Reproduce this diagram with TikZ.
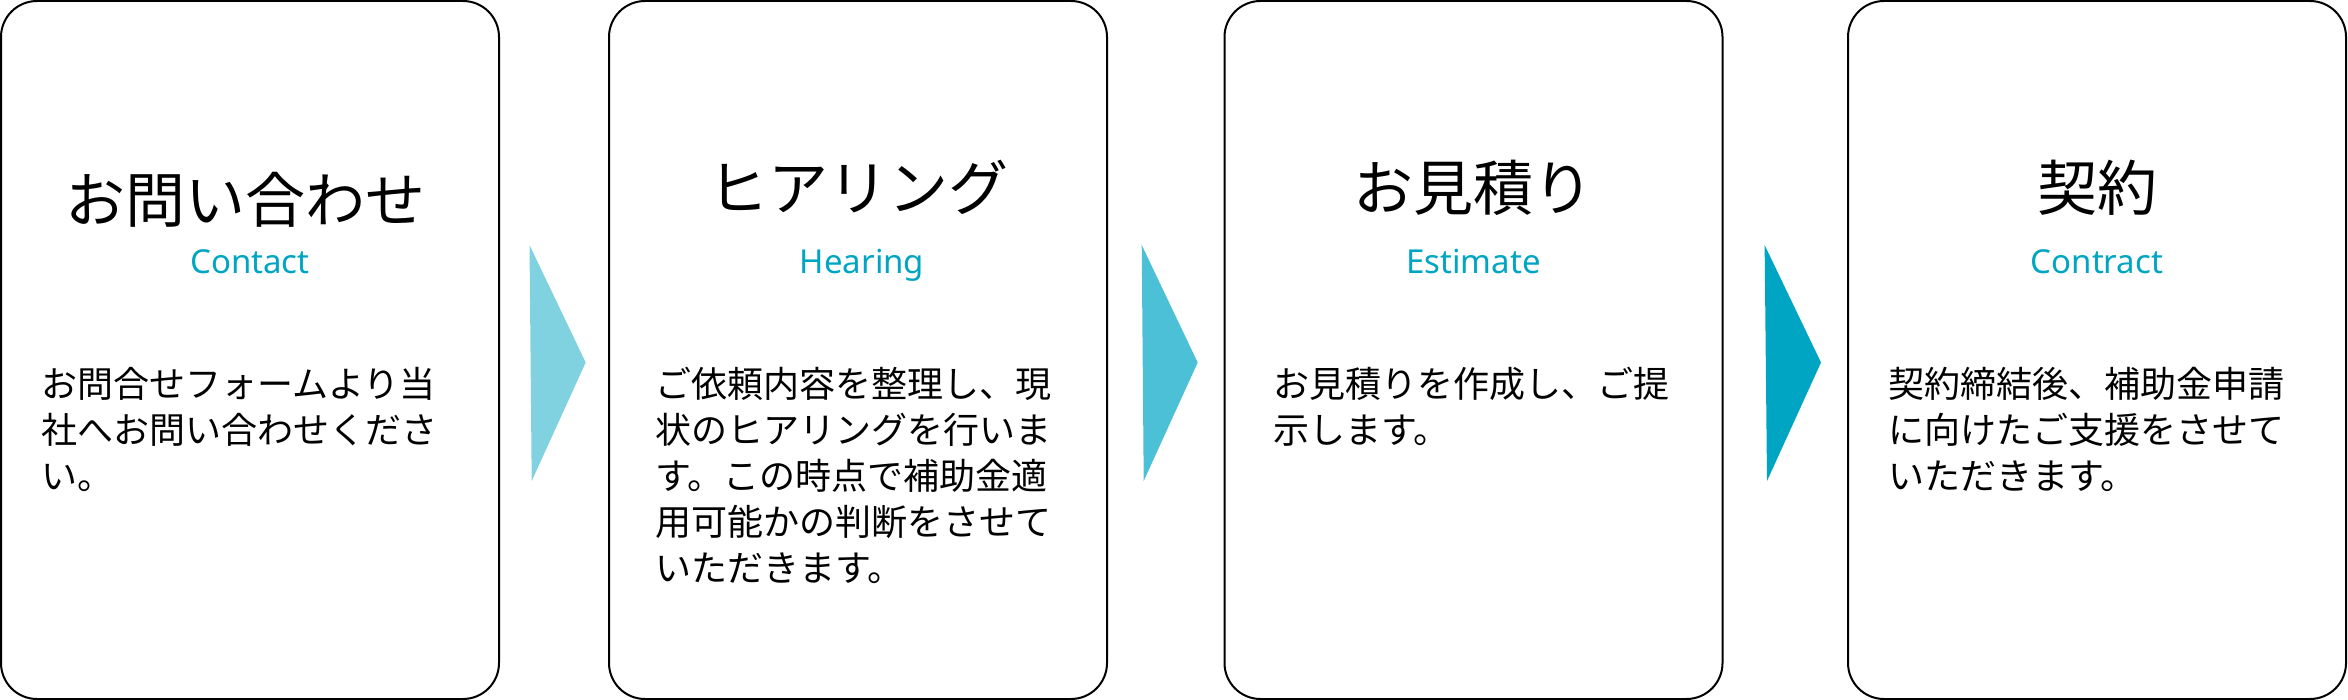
\documentclass[tikz,border=0pt]{standalone}
\usepackage{fontspec}
\setmainfont{Noto Sans CJK JP}
\newfontfamily\enfont{Noto Sans}
\definecolor{stepteal}{RGB}{0,165,196}

\begin{document}
\begin{tikzpicture}[x=0.5pt, y=-0.5pt,
  card/.style={draw, line width=1pt, rounded corners=18pt, minimum width=249pt, minimum height=349pt, inner sep=0pt},
  cardtitle/.style={anchor=base, inner sep=0pt, font=\fontsize{30}{36}\selectfont},
  cardsub/.style={anchor=base, inner sep=0pt, text=stepteal, font=\enfont\fontsize{16.5}{20}\selectfont},
  cardbody/.style={anchor=north west, align=left, inner sep=0pt, font=\fontsize{18}{23}\selectfont}]
\useasboundingbox (0,0) rectangle (2348,700);
\node [card] (card1) at (250,350) {};
\node [card] (card2) at (858,350) {};
\node [card] (card3) at (1473.5,350) {};
\node [card] (card4) at (2097,350) {};
\node [cardtitle] (title1) at (245,222) {お問い合わせ};
\node [cardtitle] (title2) at (858,211) {ヒアリング};
\node [cardtitle] (title3) at (1473.5,211) {お見積り};
\node [cardtitle] (title4) at (2097,211) {契約};
\node [cardsub] (sub1) at (250,273) {Contact};
\node [cardsub] (sub2) at (862,273) {Hearing};
\node [cardsub] (sub3) at (1473.5,273) {Estimate};
\node [cardsub] (sub4) at (2097,273) {Contract};
\node [cardbody] (body1) at (41,365) {\strut お問合せフォームより当\\社へお問い合わせくださ\\い。};
\node [cardbody] (body2) at (655,365) {\strut ご依頼内容を整理し、現\\状のヒアリングを行いま\\す。この時点で補助金適\\用可能かの判断をさせて\\いただきます。};
\node [cardbody] (body3) at (1273,365) {\strut お見積りを作成し、ご提\\示します。};
\node [cardbody] (body4) at (1888,365) {\strut 契約締結後、補助金申請\\に向けたご支援をさせて\\いただきます。};
\fill [stepteal!50] (529.5,245) -- (585.7,362.5) -- (531.7,481) -- cycle;
\fill [stepteal!70] (1141.7,245) -- (1197.7,362.5) -- (1143.7,481) -- cycle;
\fill [stepteal] (1764.6,245) -- (1821,362.5) -- (1767,481) -- cycle;
\end{tikzpicture}
\end{document}
